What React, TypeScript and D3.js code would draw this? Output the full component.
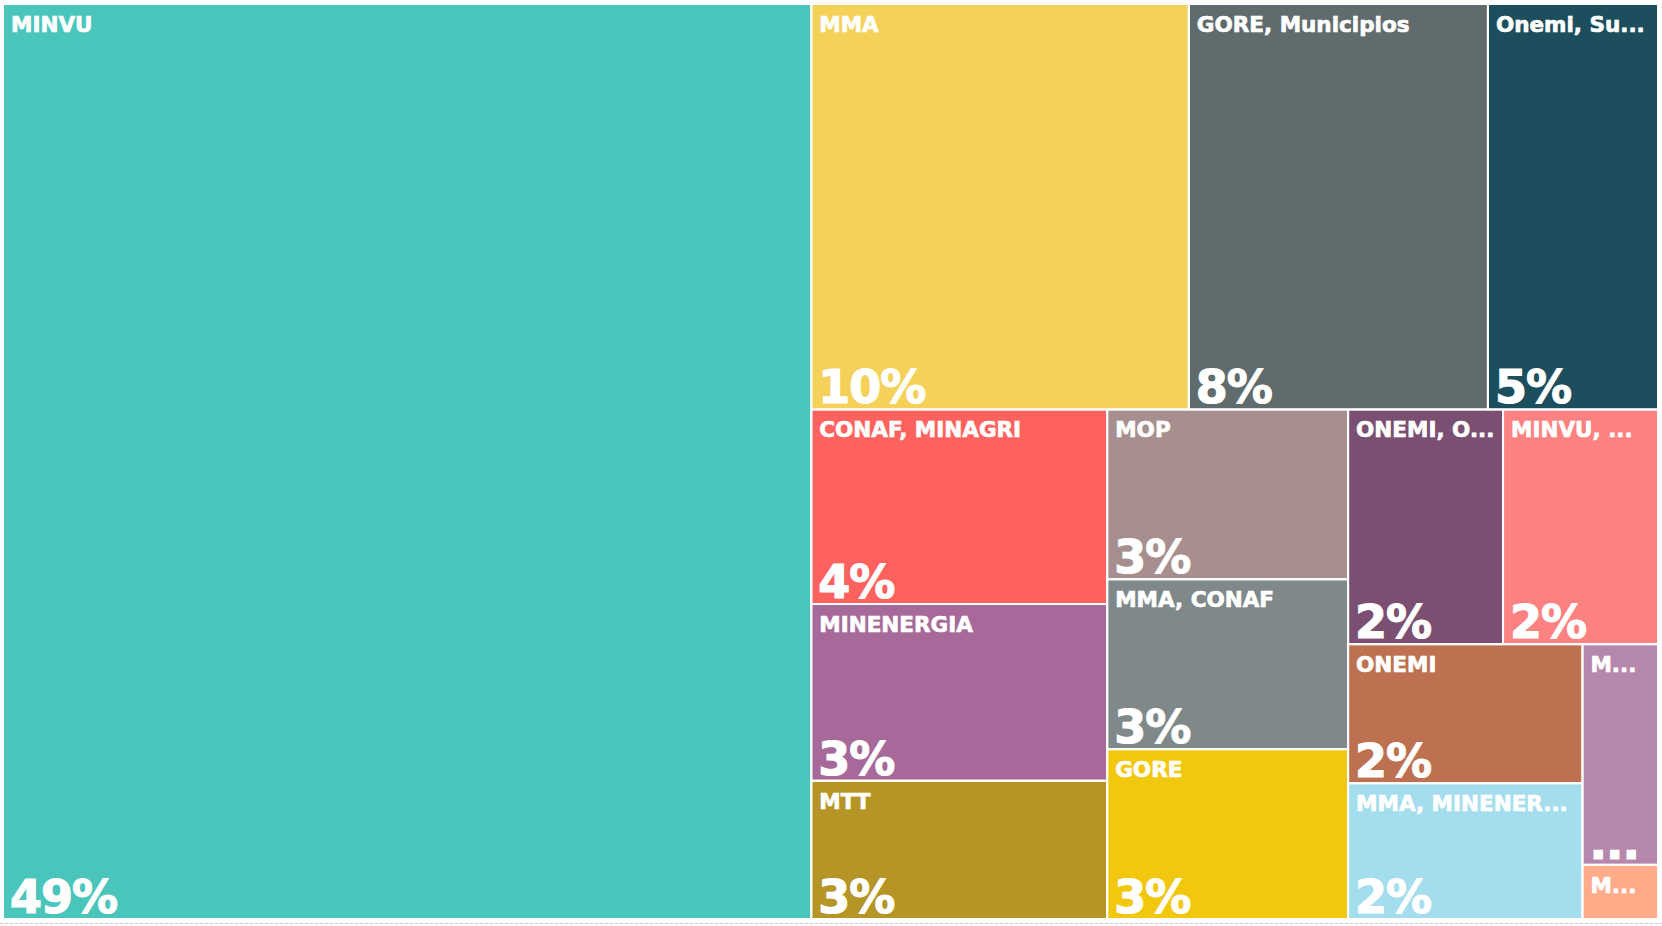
import React, { useMemo } from 'react';
import * as d3 from 'd3';

// tiles in drawing order (labels as shown, already truncated by the source chart)
const names = [
  'MINVU', 'MMA', 'GORE, Municipios', 'Onemi, Su...',
  'CONAF, MINAGRI', 'MINENERGIA', 'MTT',
  'MOP', 'MMA, CONAF', 'GORE',
  'ONEMI, O...', 'MINVU, ...',
  'ONEMI', 'MMA, MINENER...', 'M...', 'M...',
];
// share of total, in percent (read from tile areas)
const values = [48.8, 10.1, 8.0, 4.55, 3.8, 3.45, 2.7, 2.7, 2.7, 2.7, 2.4, 2.4, 2.15, 2.1, 1.1, 0.27];
const pctLabels = ['49%', '10%', '8%', '5%', '4%', '3%', '3%', '3%', '3%', '3%', '2%', '2%', '2%', '2%', '...', ''];
const colors = [
  '#4AC5BB', '#F4D25A', '#5F6B6D', '#1D4E5D',
  '#FD625E', '#A66999', '#B59525',
  '#A78F8F', '#7F898A', '#F2C80F',
  '#7B4F71', '#FB8281',
  '#BD7150', '#A4DDEE', '#B687AC', '#FDAB89',
];
// nesting of tiles (indices above); sliceDice alternates x / y split by depth
const groups: any = [0, [[1, 2, 3], [[4, 5, 6], [7, 8, 9], [[10, 11], [[12, 13], [14, 15]]]]]];

const W = 1662;
const H = 926;
const margin = { top: 5, right: 5, bottom: 8, left: 4 };
const font = '"DejaVu Sans", Arial, sans-serif';

export default function App() {
  const leaves = useMemo(() => {
    const root = d3
      .hierarchy<any>(groups, d => (Array.isArray(d) ? d : null))
      .sum(d => (Array.isArray(d) ? 0 : values[d]));
    d3.treemap<any>()
      .tile(d3.treemapSliceDice)
      .size([W - margin.left - margin.right, H - margin.top - margin.bottom])
      .paddingInner(2)(root);
    return root.leaves() as d3.HierarchyRectangularNode<any>[];
  }, []);

  return (
    <svg
      width={W}
      height={H}
      style={{ position: 'absolute', left: 0, top: 0, background: '#fff' }}
    >
      <defs>
        {leaves.map(l => (
          <clipPath key={l.data} id={`tile-clip-${l.data}`}>
            <rect x={l.x0} y={l.y0} width={l.x1 - l.x0} height={l.y1 - l.y0} />
          </clipPath>
        ))}
      </defs>
      <g transform={`translate(${margin.left},${margin.top})`}>
        {leaves.map(l => {
          const i = l.data as number;
          return (
            <g key={i} clipPath={`url(#tile-clip-${i})`}>
              <rect
                x={l.x0}
                y={l.y0}
                width={l.x1 - l.x0}
                height={l.y1 - l.y0}
                fill={colors[i]}
              />
              {/* thin white stroke fakes the heavier weight of the original face */}
              <text
                x={l.x0 + 7}
                y={l.y0 + 27}
                fill="#fff"
                stroke="#fff"
                strokeWidth={0.7}
                fontFamily={font}
                fontWeight="bold"
                fontSize={21.5}
              >
                {names[i]}
              </text>
              {pctLabels[i] && (
                <text
                  x={l.x0 + 6}
                  y={l.y1 - 5}
                  fill="#fff"
                  stroke="#fff"
                  strokeWidth={1.2}
                  fontFamily={font}
                  fontWeight="bold"
                  fontSize={46}
                  letterSpacing={-1}
                >
                  {pctLabels[i]}
                </text>
              )}
            </g>
          );
        })}
      </g>
      {/* dotted baseline under the visual */}
      <line
        x1={0}
        x2={W}
        y1={H - 2.5}
        y2={H - 2.5}
        stroke="#c8c8c8"
        strokeWidth={1}
        strokeDasharray="3,2"
      />
    </svg>
  );
}
